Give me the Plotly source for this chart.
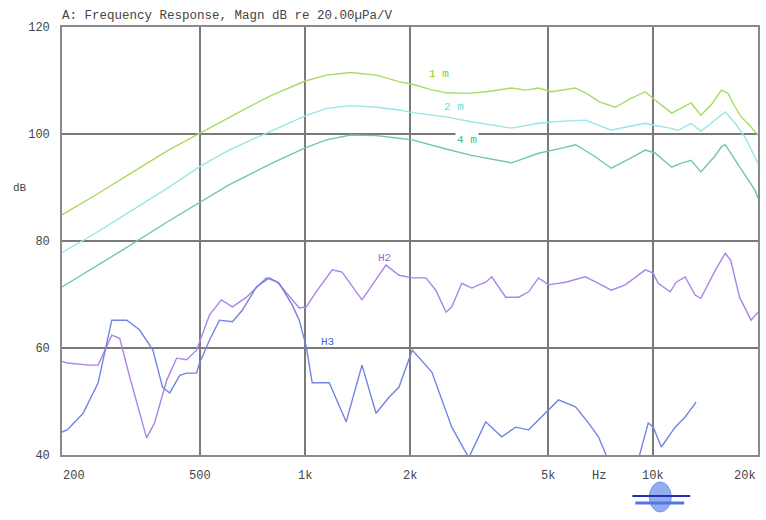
import plotly.graph_objects as go
import math

# ---------------- data ----------------
title_text = "A: Frequency Response, Magn dB re 20.00\u00b5Pa/V"

f_1m = [200, 250, 300, 350, 400, 500, 600, 700, 800, 900, 1000, 1150, 1350, 1600, 1860, 2030, 2300, 2540,
        2950, 3400, 3920, 4300, 4680, 5100, 5500, 5980, 6500, 7000, 7780, 8600, 9490, 10100, 11300, 12000,
        12850, 13700, 14700, 15700, 16400, 17200, 17900, 19000, 19600, 20000]
db_1m = [84.9, 88.6, 91.8, 94.5, 96.8, 100.2, 103.0, 105.3, 107.2, 108.6, 109.9, 111.0, 111.5, 111.0, 109.8,
         109.3, 108.3, 107.7, 107.6, 108.0, 108.6, 108.2, 108.6, 107.9, 108.2, 108.6, 107.4, 106.0, 105.0,
         106.6, 107.9, 106.4, 103.9, 104.8, 105.8, 103.5, 105.5, 108.2, 107.6, 105.0, 103.2, 101.5, 100.4, 99.8]

f_2m = [200, 250, 300, 400, 500, 600, 700, 800, 1000, 1150, 1350, 1600, 1860, 2030, 2540, 3000, 3920, 4680,
        5500, 6380, 7000, 7580, 8500, 9490, 10100, 11000, 11800, 12850, 13700, 15000, 16100, 17200, 18500,
        19600, 20000]
db_2m = [77.8, 81.5, 84.7, 89.8, 94.0, 96.9, 98.9, 100.6, 103.4, 104.8, 105.3, 105.0, 104.5, 104.0, 103.2,
         102.3, 101.1, 102.0, 102.4, 102.6, 101.6, 100.7, 101.4, 102.0, 101.6, 101.2, 100.7, 102.0, 100.5,
         102.5, 104.1, 102.0, 99.0, 95.7, 94.5]

f_4m = [200, 250, 300, 400, 500, 600, 700, 800, 1000, 1150, 1350, 1600, 1860, 2030, 2540, 3000, 3920, 4680,
        5500, 5980, 6800, 7580, 8500, 9490, 10100, 11300, 12000, 12850, 13700, 15000, 15700, 16100, 17200,
        18500, 19600, 20000]
db_4m = [71.4, 75.2, 78.4, 83.5, 87.3, 90.4, 92.6, 94.5, 97.4, 98.9, 99.8, 99.7, 99.2, 98.9, 97.2, 96.0,
         94.6, 96.4, 97.4, 98.0, 95.8, 93.6, 95.3, 97.0, 96.5, 93.8, 94.5, 95.1, 92.9, 95.8, 97.6, 98.0,
         95.1, 92.0, 89.5, 88.0]

f_h2 = [200, 207, 240, 254, 278, 293, 313, 350, 369, 400, 427, 456, 487, 531, 574, 618, 678, 773, 832, 918,
        961, 1007, 1075, 1195, 1276, 1456, 1706, 1860, 2030, 2222, 2372, 2540, 2637, 2818, 3010, 3152, 3301,
        3435, 3767, 4104, 4385, 4680, 5000, 5597, 6380, 6960, 7580, 8310, 9490, 10000, 10330, 11190, 11640,
        12350, 13190, 13700, 15100, 16100, 16700, 17700, 19100, 20000]
db_h2 = [57.5, 57.2, 56.8, 56.8, 62.4, 61.8, 54.6, 43.2, 46.0, 54.0, 58.1, 57.8, 59.6, 66.2, 69.0, 67.7,
         69.5, 73.1, 72.3, 69.0, 67.5, 67.7, 70.5, 74.6, 74.2, 69.0, 75.5, 73.6, 73.1, 73.1, 70.8, 66.7,
         67.7, 72.1, 71.2, 71.8, 72.3, 73.3, 69.5, 69.5, 70.5, 73.1, 71.8, 72.3, 73.3, 72.1, 70.8, 71.8,
         74.6, 74.0, 72.1, 70.5, 72.3, 73.3, 69.9, 69.3, 74.6, 77.7, 76.4, 69.5, 65.2, 66.7]

f_h3 = [200, 207, 230, 254, 278, 307, 334, 365, 389, 408, 436, 456, 487, 497, 531, 567, 618, 660, 724, 788,
        842, 918, 961, 1007, 1047, 1172, 1311, 1456, 1597, 1741, 1860, 2030, 2311, 2637, 2950, 3301, 3668,
        4022, 4385, 4777, 5343, 5980, 6513, 6960, 7430, 8000, 8875, 9677, 10000, 10550, 11560, 12350, 13280]
db_h3 = [44.3, 44.7, 47.8, 53.5, 65.2, 65.2, 63.4, 59.6, 52.7, 51.6, 54.9, 55.3, 55.3, 57.2, 61.5, 65.2,
         64.9, 67.1, 71.4, 73.1, 72.1, 68.0, 65.2, 60.2, 53.5, 53.5, 46.2, 56.8, 47.8, 50.8, 52.7, 59.6,
         55.5, 45.2, 39.5, 46.2, 43.4, 45.2, 44.7, 47.1, 50.3, 49.0, 46.0, 43.4, 39.0, 35.0, 37.0, 46.0,
         45.2, 41.5, 45.2, 47.1, 49.9]

x_tick_vals = [200, 500, 1000, 2000, 5000, 7000, 10000, 20000]
x_tick_text = ["200", "500", "1k", "2k", "5k", "Hz", "10k", "20k"]
x_grid_vals = [500, 1000, 2000, 5000, 10000]
y_tick_vals = [40, 60, 80, 100, 120]

series = [
    ("1 m", f_1m, db_1m, "#a8db60", "#88cc11", 2420, 111.2),
    ("2 m", f_2m, db_2m, "#98e6e6", "#66dddd", 2670, 105.0),
    ("4 m", f_4m, db_4m, "#72c8a4", "#44bb99", 2910, 98.9),
    ("H2", f_h2, db_h2, "#ab84e8", "#9966dd", 1684, 76.8),
    ("H3", f_h3, db_h3, "#7383e4", "#4466dd", 1156, 61.1),
]

MONO = "Liberation Mono, DejaVu Sans Mono, monospace"

fig = go.Figure()
for name, fx, fy, lc, tc, lx, ly in series:
    fig.add_trace(go.Scatter(x=fx, y=fy, mode="lines", name=name,
                             line=dict(color=lc, width=1.4), hoverinfo="skip"))

annotations = []
for name, fx, fy, lc, tc, lx, ly in series:
    annotations.append(dict(x=math.log10(lx), y=ly, xref="x", yref="y", text=name,
                            showarrow=False, font=dict(family=MONO, size=11, color=tc),
                            bgcolor="white" if name == "4 m" else None))

shift = {"200": 12, "20k": -13}
for v, t in zip(x_tick_vals, x_tick_text):
    annotations.append(dict(x=math.log10(v), y=0, xref="x", yref="paper", text=t, showarrow=False,
                            yanchor="top", yshift=-12, xshift=shift.get(t, 0),
                            font=dict(family=MONO, size=12, color="#444")))

annotations.append(dict(x=-0.06, y=0.625, xref="paper", yref="paper", text="dB", showarrow=False,
                        xanchor="center", font=dict(family=MONO, size=11, color="#444")))
annotations.append(dict(x=-0.003, y=1.0, xref="paper", yref="paper", text=title_text, showarrow=False,
                        xanchor="left", yanchor="bottom", yshift=2,
                        font=dict(family=MONO, size=12.5, color="#444")))

# small logo (decoration)
def px(xp):
    return (xp - 62) / 698.0
def py(yp):
    return (455 - yp) / 428.0

shapes = [
    dict(type="circle", xref="paper", yref="paper", x0=px(651), x1=px(673), y0=py(512), y1=py(482),
         fillcolor="#93adf2", line=dict(color="#7895ea", width=1), layer="above"),
    dict(type="line", xref="paper", yref="paper", x0=px(634), x1=px(692), y0=py(496), y1=py(496),
         line=dict(color="#2233aa", width=2), layer="above"),
    dict(type="line", xref="paper", yref="paper", x0=px(637), x1=px(686), y0=py(503), y1=py(503),
         line=dict(color="#5577dd", width=3), layer="above"),
]

fig.update_layout(
    width=766, height=520,
    margin=dict(l=62, r=6, t=27, b=65),
    paper_bgcolor="white", plot_bgcolor="white",
    showlegend=False,
    annotations=annotations,
    shapes=shapes,
    xaxis=dict(type="log", range=[math.log10(200), math.log10(20000)],
               tickvals=x_grid_vals, showticklabels=False, ticks="",
               showgrid=True, gridcolor="#7a7a7a", gridwidth=1.6,
               showline=True, linecolor="#8a8a8a", linewidth=1.6, mirror=True, zeroline=False),
    yaxis=dict(range=[40, 120], tickvals=y_tick_vals, ticks="", ticklabelstandoff=8,
               tickfont=dict(family=MONO, size=12, color="#444"),
               showgrid=True, gridcolor="#7a7a7a", gridwidth=1.6,
               showline=True, linecolor="#8a8a8a", linewidth=1.6, mirror=True, zeroline=False),
)

fig.write_html("out.html", config={"displayModeBar": False},
               post_script="document.body.style.margin='0';document.body.style.overflow='hidden';")
